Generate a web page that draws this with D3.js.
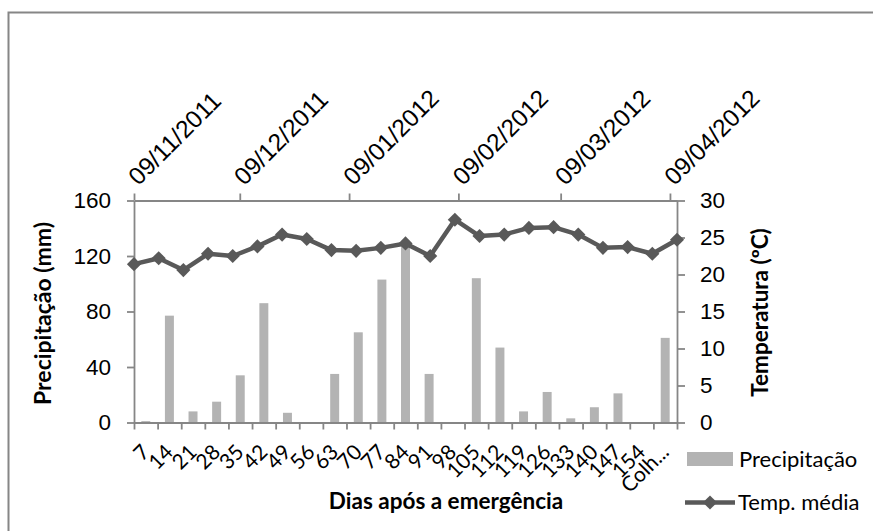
<!DOCTYPE html>
<html>
<head>
<meta charset="utf-8">
<script src="https://cdn.jsdelivr.net/npm/d3@7"></script>
<style>
  html, body { margin: 0; padding: 0; background: #fff; }
  svg { display: block; font-family: Lato, "Open Sans", sans-serif; }
  .axis path, .axis line { stroke: #868686; stroke-width: 1.8; }
  .axis text { fill: #000; }
</style>
</head>
<body>
<svg id="chart" width="873" height="531"></svg>
<script>
// Days after emergence (bottom category axis)
const categories = ["7", "14", "21", "28", "35", "42", "49", "56", "63", "70", "77", "84",
  "91", "98", "105", "112", "119", "126", "133", "140", "147", "154", "Colh..."];

// Rainfall per period (mm)
const precipitation = [1, 77, 8, 15, 34, 86, 7, 0, 35, 65, 103, 127,
  35, 0, 104, 54, 8, 22, 3, 11, 21, 0, 61];

// Mean air temperature (ºC)
const temperature = [21.4, 22.2, 20.6, 22.8, 22.5, 23.8, 25.4, 24.8, 23.3, 23.2, 23.6, 24.2,
  22.5, 27.4, 25.2, 25.4, 26.3, 26.4, 25.4, 23.6, 23.7, 22.8, 24.7];

// Calendar date of each temperature reading (secondary date axis)
const sampleDates = ["2011-11-09", "2011-11-16", "2011-11-23", "2011-11-30", "2011-12-07",
  "2011-12-14", "2011-12-21", "2011-12-28", "2012-01-04", "2012-01-11", "2012-01-18",
  "2012-01-25", "2012-02-01", "2012-02-08", "2012-02-15", "2012-02-22", "2012-02-29",
  "2012-03-07", "2012-03-14", "2012-03-21", "2012-03-28", "2012-04-04", "2012-04-11"];

// Month ticks on the top axis
const dateTicks = ["2011-11-09", "2011-12-09", "2012-01-09", "2012-02-09", "2012-03-09", "2012-04-09"];

const precipTicks = [0, 40, 80, 120, 160];
const tempTicks = [0, 5, 10, 15, 20, 25, 30];

const parse = d3.timeParse("%Y-%m-%d");
const fmt = d3.timeFormat("%d/%m/%Y");

const svg = d3.select("#chart");
const W = 873, H = 531;
const plot = { left: 134, right: 677, top: 200.5, bottom: 422.5 };
const FS = "22.5px";

// outer chart frame
svg.append("rect")
  .attr("x", 8.5).attr("y", 12.5)
  .attr("width", W).attr("height", H)
  .attr("fill", "none").attr("stroke", "#868686").attr("stroke-width", 2);

// scales
const x = d3.scaleBand().domain(categories)
  .range([plot.left, plot.right]).paddingInner(0.62).paddingOuter(0.31);
const xEdges = d3.scaleLinear().domain([0, categories.length]).range([plot.left, plot.right]);
const xDate = d3.scaleTime()
  .domain([parse(sampleDates[0]), parse(sampleDates[sampleDates.length - 1])])
  .range([plot.left, plot.right]);
const yP = d3.scaleLinear().domain([0, 160]).range([plot.bottom, plot.top]);
const yT = d3.scaleLinear().domain([0, 30]).range([plot.bottom, plot.top]);

// bars
svg.append("g").selectAll("rect")
  .data(precipitation)
  .join("rect")
  .attr("x", (d, i) => x(categories[i]))
  .attr("width", x.bandwidth())
  .attr("y", d => yP(d))
  .attr("height", d => yP(0) - yP(d))
  .attr("fill", "#b3b3b3");

// left axis
const gL = svg.append("g").attr("class", "axis")
  .attr("transform", `translate(${plot.left},0)`)
  .call(d3.axisLeft(yP).tickValues(precipTicks).tickSize(7).tickPadding(16).tickSizeOuter(0));
gL.selectAll("text").style("font-size", FS);

// right axis
const gR = svg.append("g").attr("class", "axis")
  .attr("transform", `translate(${plot.right},0)`)
  .call(d3.axisRight(yT).tickValues(tempTicks).tickSize(8).tickPadding(15).tickSizeOuter(0));
gR.selectAll("text").style("font-size", FS);

// bottom axis: ticks on category boundaries, labels under each category
svg.append("g").attr("class", "axis")
  .attr("transform", `translate(0,${plot.bottom})`)
  .call(d3.axisBottom(xEdges).tickValues(d3.range(categories.length + 1))
    .tickFormat("").tickSize(7).tickSizeOuter(0));
svg.append("g").selectAll("text")
  .data(categories)
  .join("text")
  .attr("transform", d => `translate(${x(d) + x.bandwidth() / 2 + 5},${plot.bottom + 31}) rotate(-45)`)
  .attr("text-anchor", "end")
  .style("font-size", "21px")
  .text(d => d);

// top date axis
const gT = svg.append("g").attr("class", "axis")
  .attr("transform", `translate(0,${plot.top})`)
  .call(d3.axisTop(xDate).tickValues(dateTicks.map(parse))
    .tickFormat(fmt).tickSize(7).tickSizeOuter(0));
gT.selectAll("text")
  .attr("x", 0).attr("y", 0).attr("dy", 0)
  .attr("transform", "translate(4,-14) rotate(-45)")
  .attr("text-anchor", "start")
  .style("font-size", "24.5px");

// temperature line + markers
const pts = temperature.map((t, i) => [xDate(parse(sampleDates[i])), yT(t)]);
svg.append("path")
  .attr("d", d3.line()(pts))
  .attr("fill", "none").attr("stroke", "#595959").attr("stroke-width", 4.5)
  .attr("stroke-linejoin", "round");
const diamond = d3.symbol().type(d3.symbolDiamond2).size(128);
svg.append("g").selectAll("path")
  .data(pts)
  .join("path")
  .attr("transform", d => `translate(${d[0]},${d[1]})`)
  .attr("d", diamond)
  .attr("fill", "#595959");

// axis titles
svg.append("text")
  .attr("transform", `translate(51,${(plot.top + plot.bottom) / 2 + 2}) rotate(-90)`)
  .attr("text-anchor", "middle")
  .style("font-size", "23px").style("font-weight", "bold")
  .text("Precipitação (mm)");
svg.append("text")
  .attr("transform", `translate(768,${(plot.top + plot.bottom) / 2 + 1}) rotate(-90)`)
  .attr("text-anchor", "middle")
  .style("font-size", "22.5px").style("font-weight", "bold")
  .text("Temperatura (ºC)");
svg.append("text")
  .attr("x", 446).attr("y", 509)
  .attr("text-anchor", "middle")
  .style("font-size", "22.5px").style("font-weight", "bold")
  .text("Dias após a emergência");

// legend
const lg = svg.append("g");
lg.append("rect").attr("x", 687).attr("y", 452).attr("width", 46).attr("height", 14).attr("fill", "#b3b3b3");
lg.append("text").attr("x", 739).attr("y", 467).style("font-size", "22px").text("Precipitação");
lg.append("line").attr("x1", 685).attr("x2", 735).attr("y1", 502.5).attr("y2", 502.5)
  .attr("stroke", "#595959").attr("stroke-width", 4.5);
lg.append("path").attr("transform", "translate(710,502.5)").attr("d", diamond).attr("fill", "#595959");
lg.append("text").attr("x", 738).attr("y", 510).style("font-size", "22px").text("Temp. média");
</script>
</body>
</html>
